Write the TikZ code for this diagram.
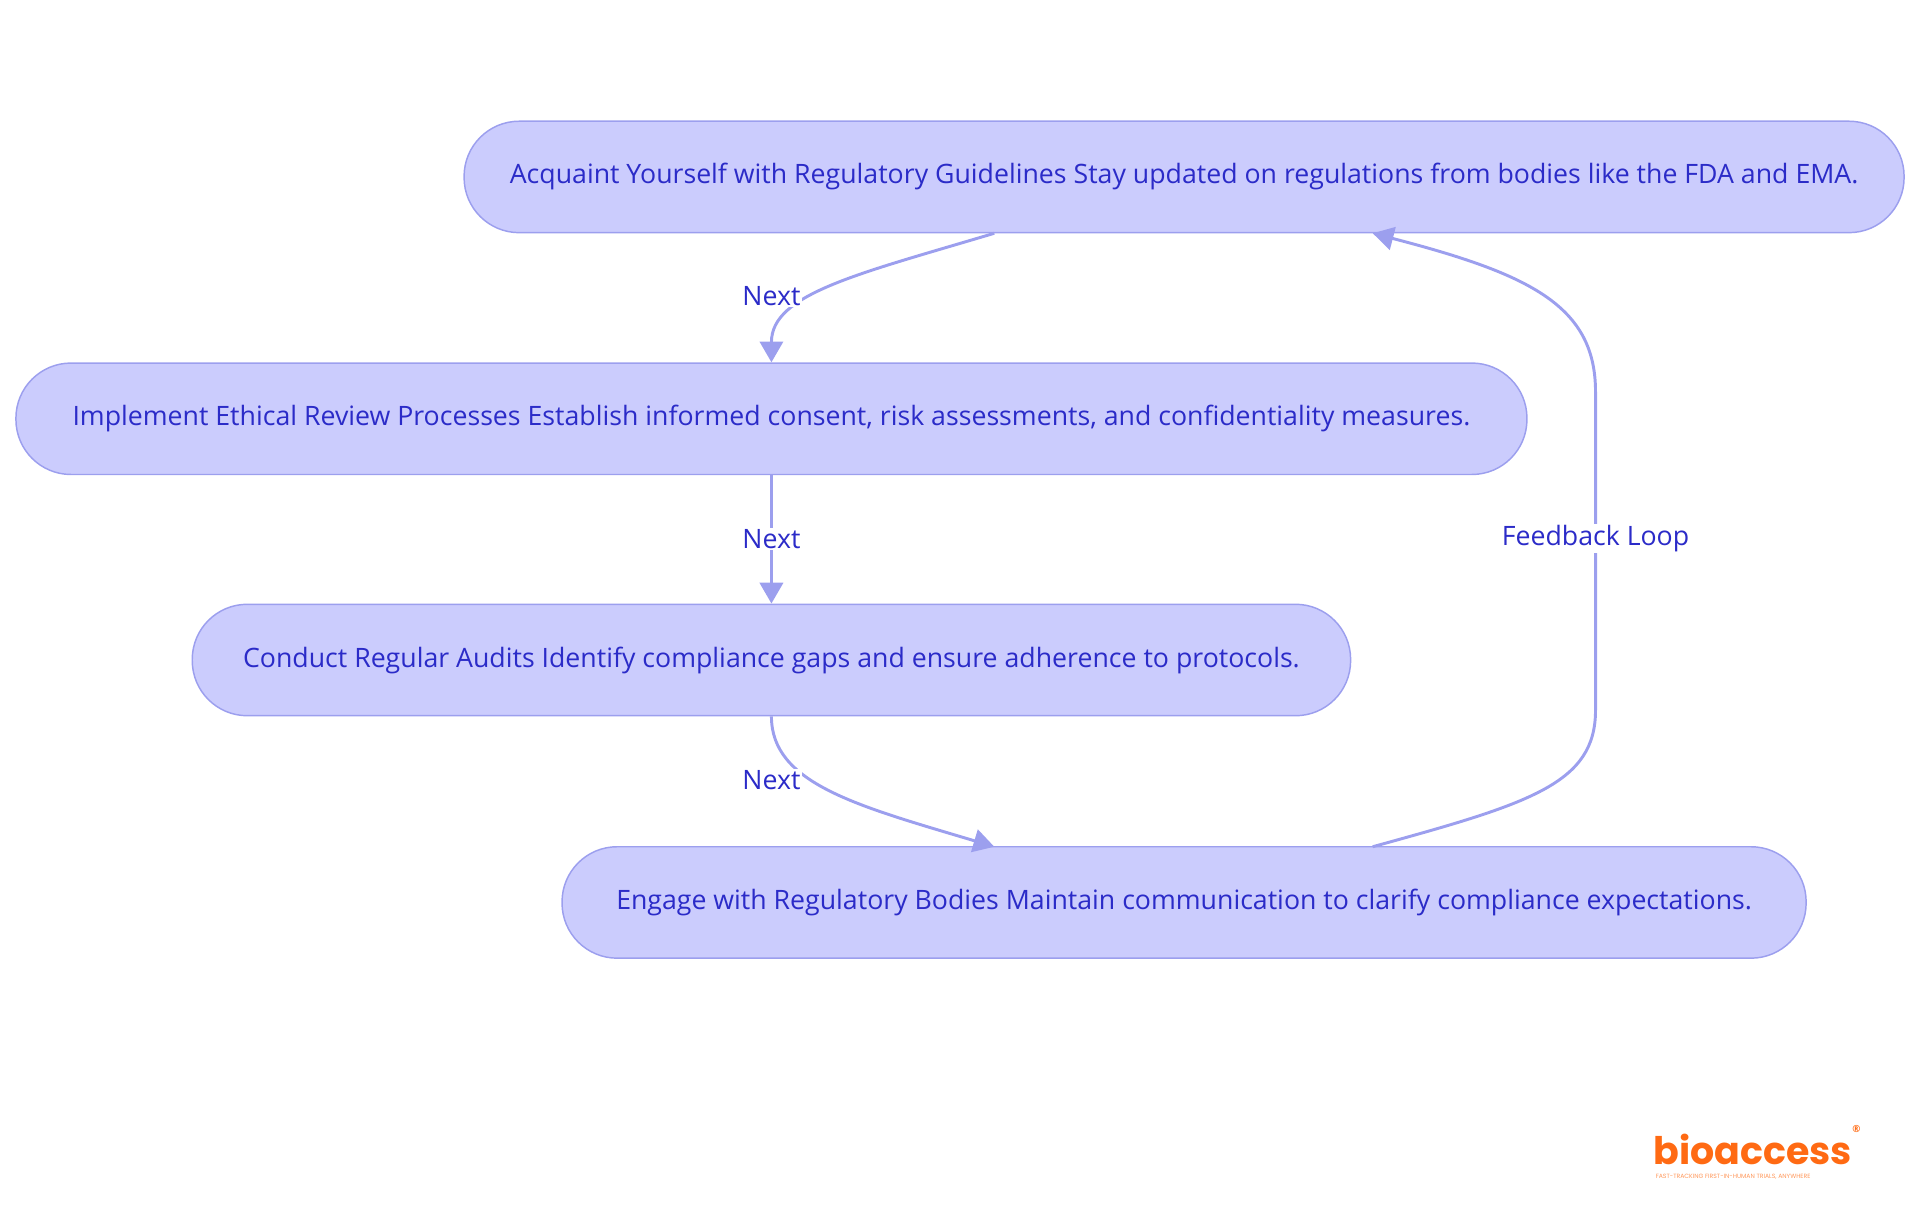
\documentclass[tikz,border=0pt]{standalone}
\usepackage{fontspec}
\setmainfont{Open Sans}
\newfontfamily\logofont{Poppins}
\usetikzlibrary{arrows.meta}
\definecolor{nfill}{HTML}{CBCCFD}
\definecolor{ndraw}{HTML}{9C9FEE}
\definecolor{ntext}{HTML}{2B2BC8}
\definecolor{logo}{HTML}{FF6A13}
\begin{document}
\begin{tikzpicture}[x=1pt,y=-1pt,
 box/.style={draw=ndraw,fill=nfill,line width=1.2pt,rounded corners=45pt,minimum height=91pt,text=ntext,font=\fontsize{21.8}{24}\selectfont,inner sep=0pt},
 edge/.style={draw=ndraw,line width=2.4pt,-{Triangle[length=17pt,width=19pt]}},
 lab/.style={fill=white,text=ntext,font=\fontsize{21.8}{24}\selectfont,inner sep=1pt}]
\useasboundingbox (0,0) rectangle (1568,992);
\node[box,minimum width=1176pt] (a) at (967,144.5) {Acquaint Yourself with Regulatory Guidelines Stay updated on regulations from bodies like the FDA and EMA.};
\node[box,minimum width=1234pt] (b) at (630,342) {Implement Ethical Review Processes Establish informed consent, risk assessments, and confidentiality measures.};
\node[box,minimum width=946pt] (c) at (630,539) {Conduct Regular Audits Identify compliance gaps and ensure adherence to protocols.};
\node[box,minimum width=1016pt] (d) at (967,737) {Engage with Regulatory Bodies Maintain communication to clarify compliance expectations.};
\coordinate (fb) at (1303,440);
\draw[edge] (812,190.5) .. controls (700,224) and (630,240) .. (b.north);
\draw[edge] (b.south) -- (c.north);
\draw[edge] (c.south) .. controls (630,640) and (700,658) .. (812,691.5);
\draw[edge] (1121,691.5) .. controls (1250,656) and (1303,640) .. (1303,580) -- (1303,320) .. controls (1303,250) and (1250,224) .. (1121,190.5);
\node[lab] (n1) at (630,242) {Next};
\node[lab] (n2) at (630,440) {Next};
\node[lab] (n3) at (630,637) {Next};
\node[lab] (n4) at (fb) {Feedback Loop};
\node[text=logo,font=\logofont\fontsize{31}{31}\selectfont\bfseries,inner sep=0pt,anchor=base west] (lg) at (1350,951) {bioaccess};
\node[text=logo,font=\fontsize{8}{8}\selectfont\bfseries,inner sep=0pt,anchor=west] (r) at ([yshift=4pt]lg.north east) {®};
\node[text=logo!70,font=\logofont\fontsize{5}{5}\selectfont,inner sep=0pt,anchor=north west] (tg) at (1352,959) {FAST-TRACKING FIRST-IN-HUMAN TRIALS, ANYWHERE};
\end{tikzpicture}
\end{document}
